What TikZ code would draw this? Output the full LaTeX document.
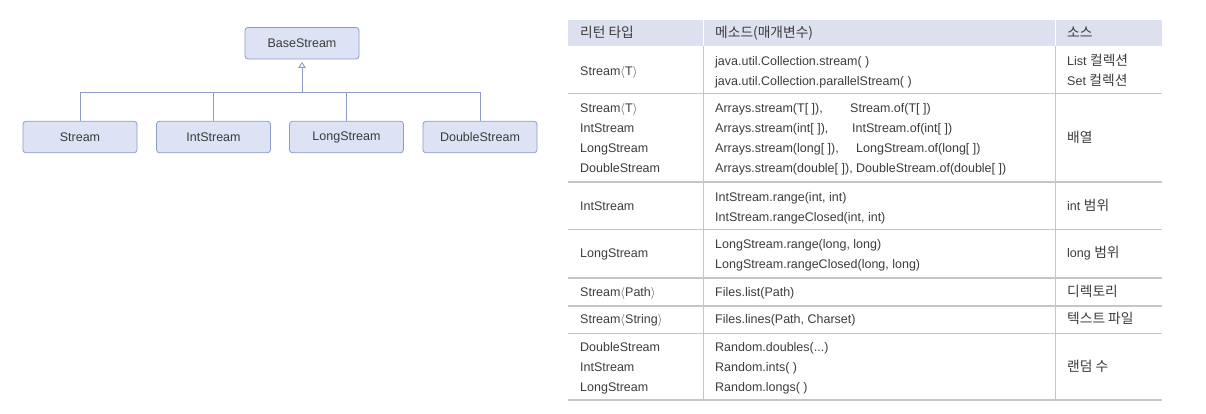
\documentclass[tikz,border=0pt]{standalone}
\usepackage{fontspec}
\setmainfont{Liberation Sans}
\newfontfamily\kr[Scale=1.1]{Noto Sans CJK KR}
\usetikzlibrary{positioning,arrows.meta}

\definecolor{boxfill}{HTML}{DDE3F4}
\definecolor{boxline}{HTML}{8D9BC6}
\definecolor{headfill}{HTML}{DCE0EF}
\definecolor{rulegray}{HTML}{C6C6C6}
\definecolor{ink}{HTML}{3C3C3C}

\tikzset{
    cls/.style={draw=boxline, fill=boxfill, rounded corners=3pt, line width=0.8pt,
        minimum width=114pt, minimum height=31.5pt, inner sep=0pt,
        font=\fontsize{12.5}{14}\selectfont, text=ink},
    link/.style={draw=boxline, line width=0.9pt},
    cell/.style={anchor=west, inner sep=0pt, text height=8.9pt, text depth=0pt,
        font=\fontsize{12.5}{14}\selectfont, text=ink},
}
\newcommand{\ang}[1]{$\langle$#1$\rangle$}

\begin{document}
\begin{tikzpicture}[x=1pt, y=-1pt]
        \useasboundingbox (0,0) rectangle (1206,413);

        % class tree
        \node[cls] (base)    at (302,43.2)  {BaseStream};
        \node[cls] (stream)  at (80,137)    {Stream};
        \node[cls] (intstr)  at (213.5,137) {IntStream};
        \node[cls] (longstr) at (346.5,137) {LongStream};
        \node[cls] (dblstr)  at (480,137)   {DoubleStream};
        \coordinate (join) at (302,92.5);

        \draw[link] (stream.north) |- (join) -| (dblstr.north);
        \draw[link] (intstr.north) -- (intstr.north |- join);
        \draw[link] (longstr.north) -- (longstr.north |- join);
        \draw[link, -{Triangle[open, length=6pt, width=7.5pt]}, shorten >=2.5pt] (join) -- (base.south);

        % table frame
        \fill[headfill] (568,19.5) rectangle (1162,45.7);
        \draw[white, line width=1.5pt] (703.4,19.5) -- (703.4,45.7) (1055.3,19.5) -- (1055.3,45.7);
        \draw[rulegray, line width=0.8pt] (703.4,45.7) -- (703.4,400) (1055.3,45.7) -- (1055.3,400);
        \foreach \y in {93.5,181.7,229.5,277.7,305.7,333.3,400}
            \draw[rulegray, line width=1.6pt] (568,\y) -- (1162,\y);

        % header
        \node[cell] (h1) at (580,33) {\kr 리턴 타입};
        \node[cell] (h2) at (715,33) {\kr 메소드(매개변수)};
        \node[cell] (h3) at (1067,33) {\kr 소스};

        % collection
        \node[cell] (t1)  at (580,71) {Stream\ang{T}};
        \node[cell] (m1a) at (715,61) {java.util.Collection.stream( )};
        \node[cell] (m1b) at (715,81) {java.util.Collection.parallelStream( )};
        \node[cell] (s1a) at (1067,61) {List {\kr 컬렉션}};
        \node[cell] (s1b) at (1067,81) {Set {\kr 컬렉션}};

        % array
        \node[cell] (t2a) at (580,108.5) {Stream\ang{T}};
        \node[cell] (t2b) at (580,128.5) {IntStream};
        \node[cell] (t2c) at (580,148.5) {LongStream};
        \node[cell] (t2d) at (580,168.5) {DoubleStream};
        \node[cell] (m2a) at (715,108.5) {Arrays.stream(T[ ]),};
        \node[cell] (m2b) at (715,128.5) {Arrays.stream(int[ ]),};
        \node[cell] (m2c) at (715,148.5) {Arrays.stream(long[ ]),};
        \node[cell] (m2d) at (715,168.5) {Arrays.stream(double[ ]),};
        \node[cell] (o2a) at (850,108.5) {Stream.of(T[ ])};
        \node[cell] (o2b) at (852,128.5) {IntStream.of(int[ ])};
        \node[cell] (o2c) at (856,148.5) {LongStream.of(long[ ])};
        \node[cell] (o2d) at (856,168.5) {DoubleStream.of(double[ ])};
        \node[cell] (s2)  at (1067,138) {\kr 배열};

        % int range
        \node[cell] (t3)  at (580,206) {IntStream};
        \node[cell] (m3a) at (715,196.7) {IntStream.range(int, int)};
        \node[cell] (m3b) at (715,216.7) {IntStream.rangeClosed(int, int)};
        \node[cell] (s3)  at (1067,206) {int {\kr 범위}};

        % long range
        \node[cell] (t4)  at (580,253.5) {LongStream};
        \node[cell] (m4a) at (715,244.3) {LongStream.range(long, long)};
        \node[cell] (m4b) at (715,264.3) {LongStream.rangeClosed(long, long)};
        \node[cell] (s4)  at (1067,253.5) {long {\kr 범위}};

        % directory, text file
        \node[cell] (t5) at (580,291.7) {Stream\ang{Path}};
        \node[cell] (m5) at (715,291.7) {Files.list(Path)};
        \node[cell] (s5) at (1067,291.7) {\kr 디렉토리};
        \node[cell] (t6) at (580,319.3) {Stream\ang{String}};
        \node[cell] (m6) at (715,319.3) {Files.lines(Path, Charset)};
        \node[cell] (s6) at (1067,319.3) {\kr 텍스트 파일};

        % random
        \node[cell] (t7a) at (580,347) {DoubleStream};
        \node[cell] (t7b) at (580,367) {IntStream};
        \node[cell] (t7c) at (580,387) {LongStream};
        \node[cell] (m7a) at (715,347) {Random.doubles(...)};
        \node[cell] (m7b) at (715,367) {Random.ints( )};
        \node[cell] (m7c) at (715,387) {Random.longs( )};
        \node[cell] (s7)  at (1067,367) {\kr 랜덤 수};
\end{tikzpicture}
\end{document}
